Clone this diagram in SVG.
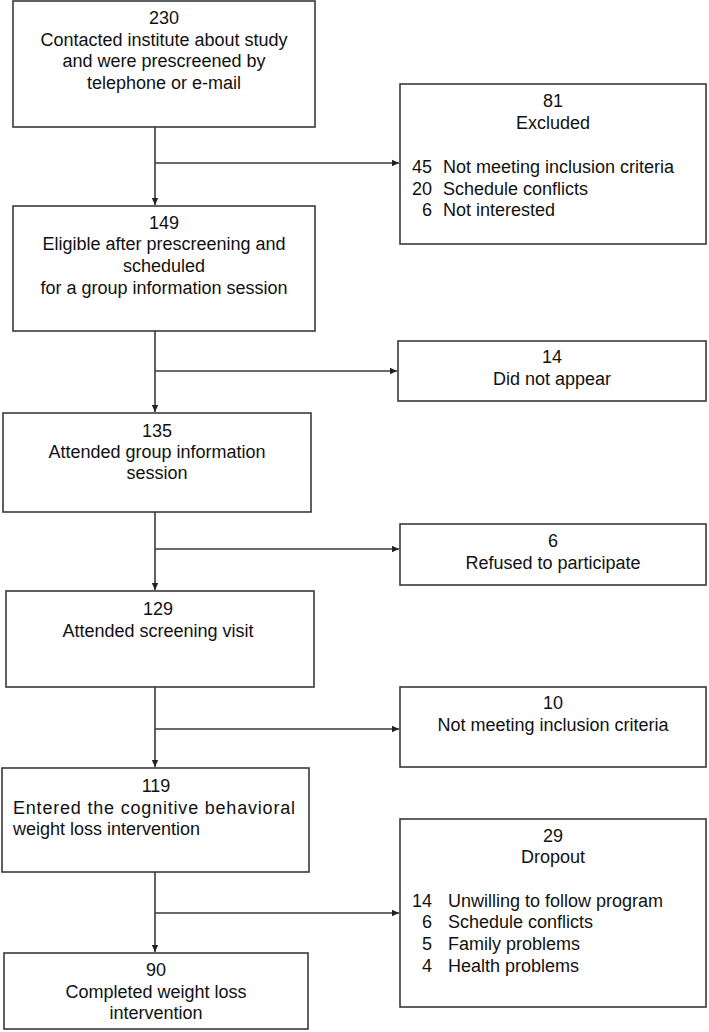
<svg xmlns="http://www.w3.org/2000/svg" width="709" height="1032" viewBox="0 0 709 1032">
<style>
.box{fill:#fff;stroke:#3a3a3a;stroke-width:1.6}
.t{font-family:"Liberation Sans",Arial,sans-serif;font-size:18px;fill:#111}
.c{text-anchor:middle}
.r{text-anchor:end}
.ln{stroke:#3a3a3a;stroke-width:1.6;fill:none}
</style>
<defs>
<marker id="ah" markerUnits="userSpaceOnUse" markerWidth="8" markerHeight="8" refX="7" refY="4" orient="auto">
<path d="M0,0.8 L7,4 L0,7.2 z" fill="#222"/>
</marker>
</defs>
<rect width="709" height="1032" fill="#fff"/>
<g id="connectors">
<path class="ln" d="M155,127 V205" marker-end="url(#ah)"/>
<path class="ln" d="M155,163 H399" marker-end="url(#ah)"/>
<path class="ln" d="M155,331 V412" marker-end="url(#ah)"/>
<path class="ln" d="M155,371 H397" marker-end="url(#ah)"/>
<path class="ln" d="M155,512 V590" marker-end="url(#ah)"/>
<path class="ln" d="M155,549 H399" marker-end="url(#ah)"/>
<path class="ln" d="M155,687 V767" marker-end="url(#ah)"/>
<path class="ln" d="M155,729 H399" marker-end="url(#ah)"/>
<path class="ln" d="M155,872 V952" marker-end="url(#ah)"/>
<path class="ln" d="M155,913 H399" marker-end="url(#ah)"/>
</g>
<g id="n230">
<rect class="box" x="13" y="1" width="302" height="126"/>
<text class="t c" x="164" y="24">230</text>
<text class="t c" x="164" y="45.5">Contacted institute about study</text>
<text class="t c" x="164" y="67">and were prescreened by</text>
<text class="t c" x="164" y="88.5">telephone or e-mail</text>
</g>
<g id="n149">
<rect class="box" x="13" y="206" width="302" height="125"/>
<text class="t c" x="164" y="228.5">149</text>
<text class="t c" x="164" y="250">Eligible after prescreening and</text>
<text class="t c" x="164" y="272">scheduled</text>
<text class="t c" x="164" y="293.5">for a group information session</text>
</g>
<g id="n135">
<rect class="box" x="3" y="413" width="308" height="99"/>
<text class="t c" x="157" y="437">135</text>
<text class="t c" x="157" y="458">Attended group information</text>
<text class="t c" x="157" y="479">session</text>
</g>
<g id="n129">
<rect class="box" x="6" y="591" width="308" height="96"/>
<text class="t c" x="158" y="615">129</text>
<text class="t c" x="158" y="637">Attended screening visit</text>
</g>
<g id="n119">
<rect class="box" x="2" y="768" width="307" height="104"/>
<text class="t c" x="156" y="792">119</text>
<text class="t" x="13" y="814" textLength="282" lengthAdjust="spacing">Entered the cognitive behavioral</text>
<text class="t" x="13" y="835">weight loss intervention</text>
</g>
<g id="n90">
<rect class="box" x="4" y="953" width="304" height="76"/>
<text class="t c" x="156" y="976">90</text>
<text class="t c" x="156" y="997.5">Completed weight loss</text>
<text class="t c" x="156" y="1019">intervention</text>
</g>
<g id="n81">
<rect class="box" x="400" y="84" width="306" height="160"/>
<text class="t c" x="553" y="107">81</text>
<text class="t c" x="553" y="129">Excluded</text>
<text class="t r" x="432" y="173">45</text>
<text class="t" x="443" y="173">Not meeting inclusion criteria</text>
<text class="t r" x="432" y="195">20</text>
<text class="t" x="443" y="195">Schedule conflicts</text>
<text class="t r" x="432" y="216">6</text>
<text class="t" x="443" y="216">Not interested</text>
</g>
<g id="n14">
<rect class="box" x="398" y="341" width="308" height="60"/>
<text class="t c" x="552" y="363">14</text>
<text class="t c" x="552" y="385">Did not appear</text>
</g>
<g id="n6">
<rect class="box" x="400" y="524" width="306" height="61"/>
<text class="t c" x="553" y="547">6</text>
<text class="t c" x="553" y="569">Refused to participate</text>
</g>
<g id="n10">
<rect class="box" x="400" y="687" width="306" height="80"/>
<text class="t c" x="553" y="709">10</text>
<text class="t c" x="553" y="731">Not meeting inclusion criteria</text>
</g>
<g id="n29">
<rect class="box" x="400" y="819" width="306" height="188"/>
<text class="t c" x="553" y="842">29</text>
<text class="t c" x="553" y="863">Dropout</text>
<text class="t r" x="432" y="907">14</text>
<text class="t" x="448" y="907">Unwilling to follow program</text>
<text class="t r" x="432" y="928">6</text>
<text class="t" x="448" y="928">Schedule conflicts</text>
<text class="t r" x="432" y="950">5</text>
<text class="t" x="448" y="950">Family problems</text>
<text class="t r" x="432" y="972">4</text>
<text class="t" x="448" y="972">Health problems</text>
</g>
</svg>
